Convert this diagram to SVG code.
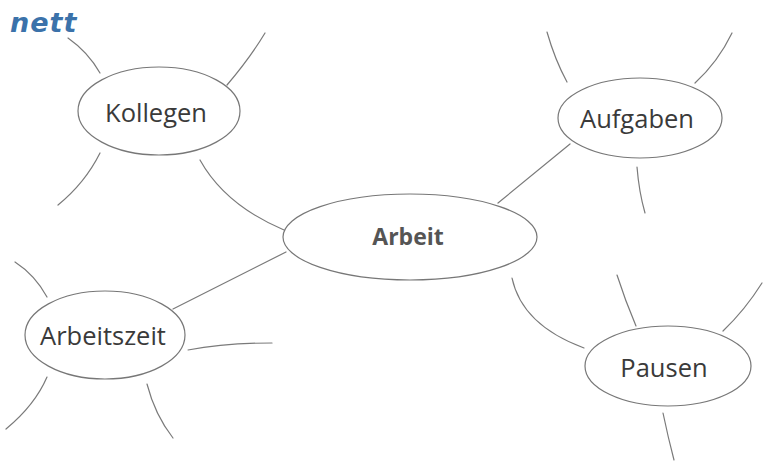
<svg xmlns="http://www.w3.org/2000/svg" width="763" height="464" viewBox="0 0 763 464">
<style>
.ln{fill:none;stroke:#7a7a7a;stroke-width:1.2;stroke-linecap:round}
.nd{fill:#fff;stroke:#777;stroke-width:1.2}
.tx{font-family:"Open Sans","Noto Sans",sans-serif;font-size:25.5px;fill:#3a3a3a;text-anchor:middle}
.bd{font-family:"Open Sans","Noto Sans",sans-serif;font-size:23px;font-weight:bold;fill:#555;text-anchor:middle}
</style>
<rect width="763" height="464" fill="#fff"/>
<g id="connectors">
<path class="ln" d="M200,160 Q225,205 284,230"/>
<path class="ln" d="M286,252 L173,309"/>
<path class="ln" d="M570,144 L498,203"/>
<path class="ln" d="M512,278 Q522,325 584,348"/>
<path class="ln" d="M68,38 Q88,52 100,73"/>
<path class="ln" d="M265,33 Q250,58 227,85"/>
<path class="ln" d="M100,153 Q85,183 58,205"/>
<path class="ln" d="M15,262 Q35,275 47,297"/>
<path class="ln" d="M188,350 Q225,343 272,343"/>
<path class="ln" d="M47,377 Q35,405 6,429"/>
<path class="ln" d="M147,384 Q155,415 173,438"/>
<path class="ln" d="M547,32 Q555,60 567,82"/>
<path class="ln" d="M732,33 Q718,62 695,83"/>
<path class="ln" d="M637,167 Q639,192 645,213"/>
<path class="ln" d="M617,275 Q625,300 636,326"/>
<path class="ln" d="M762,283 Q745,310 723,331"/>
<path class="ln" d="M663,413 Q668,437 674,460"/>
</g>
<g id="arbeit">
<ellipse class="nd" cx="410" cy="237" rx="127" ry="43"/>
<text class="bd" x="408" y="245">Arbeit</text>
</g>
<g id="kollegen">
<ellipse class="nd" cx="159" cy="111" rx="81" ry="44"/>
<text class="tx" x="156" y="122">Kollegen</text>
</g>
<g id="aufgaben">
<ellipse class="nd" cx="640" cy="118" rx="82" ry="40"/>
<text class="tx" x="637" y="128">Aufgaben</text>
</g>
<g id="arbeitszeit">
<ellipse class="nd" cx="105" cy="335" rx="80" ry="44"/>
<text class="tx" x="103" y="345">Arbeitszeit</text>
</g>
<g id="pausen">
<ellipse class="nd" cx="668" cy="366" rx="83" ry="40"/>
<text class="tx" x="664" y="377">Pausen</text>
</g>
<g id="nett">
<text x="10" y="32" font-family="'DejaVu Sans',sans-serif" font-style="italic" font-weight="bold" font-size="27" letter-spacing="1" fill="#3b72aa">nett</text>
</g>
</svg>
